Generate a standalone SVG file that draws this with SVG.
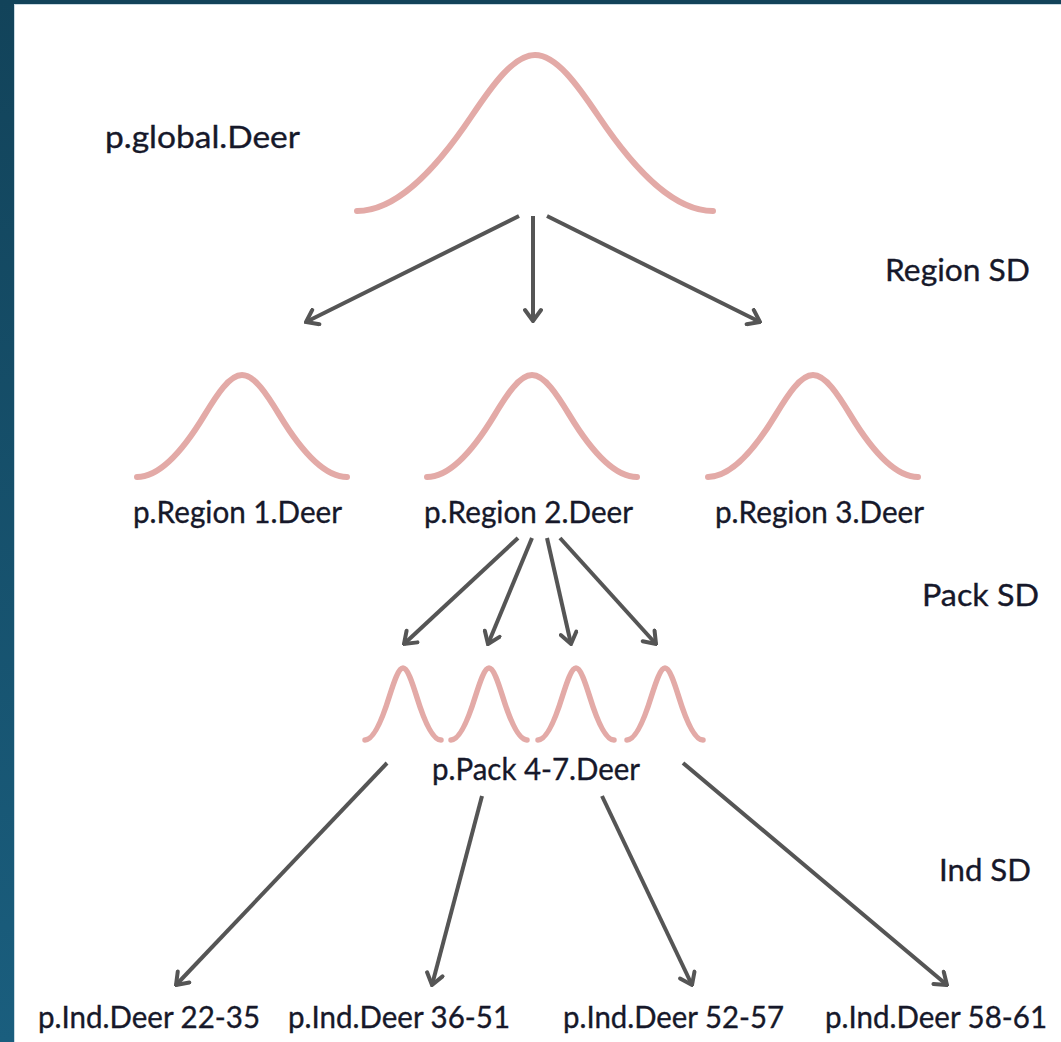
<svg xmlns="http://www.w3.org/2000/svg" width="1061" height="1042" viewBox="0 0 1061 1042">
  <defs>
    <linearGradient id="barGrad" x1="0" y1="0" x2="0" y2="1">
      <stop offset="0" stop-color="#12435a"/>
      <stop offset="1" stop-color="#1a5e7e"/>
    </linearGradient>
    <marker id="chevron" markerUnits="userSpaceOnUse" viewBox="-14 -10 16 20" refX="0" refY="0" markerWidth="16" markerHeight="20" orient="auto">
      <path d="M-11,-8 L0,0 L-11,8" fill="none" stroke="#555555" stroke-width="4" stroke-linecap="round" stroke-linejoin="miter"/>
    </marker>
    <style>
      .curve { fill: none; stroke: #e3aaa7; stroke-width: 6; stroke-linecap: round; stroke-linejoin: round; }
      .curve.small { stroke-width: 5.5; }
      .arrow { fill: none; stroke: #555555; stroke-width: 4; marker-end: url(#chevron); }
      .label { font-family: Lato, "Open Sans", "Liberation Sans", sans-serif; font-size: 31px; fill: #16182a; stroke: #16182a; stroke-width: 0.35px; }
    </style>
  </defs>

  <!-- slide frame -->
  <rect x="0" y="0" width="1061" height="1042" fill="#ffffff"/>
  <rect x="0" y="0" width="1061" height="4" fill="#12435a"/>
  <rect x="0" y="0" width="14" height="1042" fill="url(#barGrad)"/>
  <line x1="14" y1="4.5" x2="1061" y2="4.5" stroke="#c9d9e2" stroke-width="1"/>
  <line x1="14.5" y1="4" x2="14.5" y2="1042" stroke="#c9d9e2" stroke-width="1"/>

  <!-- global level -->
  <g id="global">
    <path class="curve" d="M357,211 C395.1,211 433.3,173.2 471.4,116.4 C492.6,84.8 513.8,55 535,55 C556.2,55 577.4,84.8 598.6,116.4 C636.7,173.2 674.9,211 713,211"/>
    <text class="label" x="105" y="148" textLength="195" lengthAdjust="spacingAndGlyphs">p.global.Deer</text>
  </g>

  <!-- region level -->
  <g id="region1">
    <path class="curve" d="M137,477 C159.5,477 182,452.3 204.5,415.1 C217,394.5 229.5,375 242,375 C254.5,375 267,394.5 279.5,415.1 C302,452.3 324.5,477 347,477"/>
    <text class="label" x="133" y="523" textLength="209" lengthAdjust="spacingAndGlyphs">p.Region 1.Deer</text>
  </g>
  <g id="region2">
    <path class="curve" d="M427,477 C449.5,477 472,452.3 494.5,415.1 C507,394.5 519.5,375 532,375 C544.5,375 557,394.5 569.5,415.1 C592,452.3 614.5,477 637,477"/>
    <text class="label" x="424" y="523" textLength="209" lengthAdjust="spacingAndGlyphs">p.Region 2.Deer</text>
  </g>
  <g id="region3">
    <path class="curve" d="M708,477 C730.5,477 753,452.3 775.5,415.1 C788,394.5 800.5,375 813,375 C825.5,375 838,394.5 850.5,415.1 C873,452.3 895.5,477 918,477"/>
    <text class="label" x="715" y="523" textLength="209" lengthAdjust="spacingAndGlyphs">p.Region 3.Deer</text>
  </g>

  <!-- pack level -->
  <g id="packs">
    <path class="curve small" d="M365,740 C373.1,740 381.3,722.5 389.4,696.3 C394,681.8 398.5,668 403,668 C407.5,668 412,681.8 416.6,696.3 C424.7,722.5 432.9,740 441,740"/>
    <path class="curve small" d="M451,740 C459.1,740 467.3,722.5 475.4,696.3 C480,681.8 484.5,668 489,668 C493.5,668 498,681.8 502.6,696.3 C510.7,722.5 518.9,740 527,740"/>
    <path class="curve small" d="M538,740 C546.1,740 554.3,722.5 562.4,696.3 C567,681.8 571.5,668 576,668 C580.5,668 585,681.8 589.6,696.3 C597.7,722.5 605.9,740 614,740"/>
    <path class="curve small" d="M627,740 C635.1,740 643.3,722.5 651.4,696.3 C656,681.8 660.5,668 665,668 C669.5,668 674,681.8 678.6,696.3 C686.7,722.5 694.9,740 703,740"/>
    <text class="label" x="432" y="780" textLength="208" lengthAdjust="spacingAndGlyphs">p.Pack 4-7.Deer</text>
  </g>

  <!-- individual level -->
  <g id="ind1">
    <text class="label" x="38" y="1028" textLength="222" lengthAdjust="spacingAndGlyphs">p.Ind.Deer 22-35</text>
  </g>
  <g id="ind2">
    <text class="label" x="288" y="1028" textLength="222" lengthAdjust="spacingAndGlyphs">p.Ind.Deer 36-51</text>
  </g>
  <g id="ind3">
    <text class="label" x="563" y="1028" textLength="221" lengthAdjust="spacingAndGlyphs">p.Ind.Deer 52-57</text>
  </g>
  <g id="ind4">
    <text class="label" x="825" y="1028" textLength="222" lengthAdjust="spacingAndGlyphs">p.Ind.Deer 58-61</text>
  </g>

  <!-- variance labels -->
  <g id="sd-labels">
    <text class="label" x="885" y="281" textLength="145" lengthAdjust="spacingAndGlyphs">Region SD</text>
    <text class="label" x="922" y="606" textLength="117" lengthAdjust="spacingAndGlyphs">Pack SD</text>
    <text class="label" x="939" y="881" textLength="92" lengthAdjust="spacingAndGlyphs">Ind SD</text>
  </g>

  <!-- connectors -->
  <g id="connectors">
    <line class="arrow" x1="519" y1="216" x2="306" y2="322"/>
    <line class="arrow" x1="533" y1="216" x2="533" y2="321"/>
    <line class="arrow" x1="547" y1="216" x2="760" y2="322"/>

    <line class="arrow" x1="518" y1="538" x2="404" y2="644"/>
    <line class="arrow" x1="532" y1="538" x2="488" y2="644"/>
    <line class="arrow" x1="547" y1="538" x2="571" y2="644"/>
    <line class="arrow" x1="560" y1="538" x2="656" y2="644"/>

    <line class="arrow" x1="387" y1="763" x2="176" y2="985"/>
    <line class="arrow" x1="482" y1="796" x2="432" y2="985"/>
    <line class="arrow" x1="602" y1="796" x2="692" y2="985"/>
    <line class="arrow" x1="683" y1="763" x2="947" y2="985"/>
  </g>
</svg>
